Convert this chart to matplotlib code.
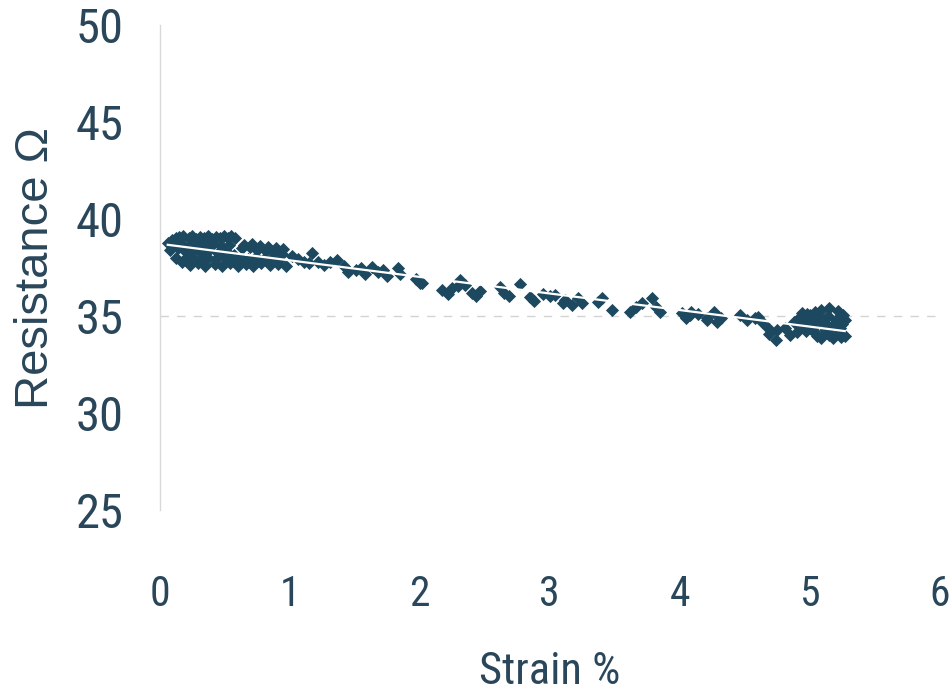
import numpy as np
import matplotlib
matplotlib.use("Agg")
import matplotlib.pyplot as plt
from matplotlib import font_manager as fm

# the scan uses a narrow Arial-like face for horizontal text
have = {f.name for f in fm.fontManager.ttflist}
narrow = {'family': 'DejaVu Sans', 'stretch': 'condensed'}
for name in ['Liberation Sans Narrow', 'Arial Narrow', 'Roboto Condensed', 'Open Sans Condensed']:
    if name in have:
        narrow = {'family': name}
        break
regular = 'Liberation Sans' if 'Liberation Sans' in have else 'DejaVu Sans'

# strain (%) and resistance (ohm)
strain = [
    0.06, 0.09, 0.12, 0.15, 0.18, 0.22, 0.25, 0.28, 0.31, 0.34, 0.37, 0.40, 0.43, 0.46, 0.49, 0.52, 0.55, 0.58,
    0.11, 0.17, 0.23, 0.29, 0.35, 0.41, 0.47, 0.53,
    0.08, 0.14, 0.20, 0.26, 0.32, 0.38, 0.45, 0.51, 0.57, 0.63, 0.69, 0.75, 0.82, 0.88, 0.94,
    0.12, 0.19, 0.25, 0.31, 0.37, 0.43, 0.50, 0.56, 0.62, 0.68, 0.74, 0.80, 0.86, 0.92,
    0.17, 0.23, 0.29, 0.35, 0.42, 0.48, 0.54, 0.60, 0.66, 0.72, 0.78, 0.85, 0.91, 0.97,
    0.65, 0.71, 0.77, 0.83, 0.89, 0.95,
    1.02, 1.06, 1.11, 1.17, 1.15, 1.22, 1.26, 1.31, 1.36, 1.42, 1.45, 1.51, 1.55, 1.58, 1.63, 1.68,
    1.72, 1.75, 1.83, 1.85, 1.97, 2.00,
    2.02, 2.17, 2.22, 2.25, 2.31, 2.35, 2.29, 2.40, 2.46, 2.43, 2.62, 2.65, 2.69, 2.77, 2.85, 2.88,
    2.95, 3.00, 3.04, 3.10,
    3.12, 3.17, 3.22, 3.25, 3.37, 3.40, 3.48, 3.62, 3.66, 3.71, 3.79, 3.82, 3.85, 4.02, 4.08, 4.14,
    4.05, 4.21,
    4.09, 4.21, 4.26, 4.32, 4.29, 4.46, 4.52, 4.58, 4.63, 4.68, 4.60, 4.69, 4.74, 4.75, 4.85, 4.81,
    4.92, 4.98, 5.04, 5.09, 5.15, 5.22, 5.26, 4.96, 5.02, 5.08, 5.14, 5.20, 5.25, 4.92, 5.00, 5.04,
    5.09, 5.15, 5.22, 5.27, 5.12,
    4.94, 5.00, 5.06, 5.11, 5.17, 5.23, 5.27, 4.97, 5.06, 5.18, 5.24, 4.88, 4.90,
]
resistance = [
    38.76, 38.92, 39.02, 39.07, 39.12, 39.02, 39.12, 38.97, 39.07, 39.02, 39.12, 38.97, 39.07, 39.02, 39.12, 39.02, 39.12, 39.02,
    38.66, 38.71, 38.61, 38.71, 38.66, 38.71, 38.61, 38.66,
    38.40, 38.51, 38.30, 38.40, 38.20, 38.40, 38.25, 38.35, 38.14, 38.51, 38.56, 38.40, 38.35, 38.30, 38.20,
    38.00, 37.94, 38.04, 37.89, 38.00, 37.94, 38.04, 37.89, 38.00, 37.94, 38.04, 37.94, 38.00, 37.89,
    37.78, 37.63, 37.73, 37.58, 37.68, 37.58, 37.73, 37.58, 37.68, 37.58, 37.73, 37.63, 37.68, 37.58,
    38.66, 38.71, 38.61, 38.56, 38.51, 38.45,
    38.09, 37.94, 37.78, 38.25, 37.73, 37.78, 37.63, 37.78, 37.89, 37.58, 37.27, 37.37, 37.47, 37.16, 37.53, 37.27,
    37.37, 37.06, 37.47, 37.16, 36.91, 36.70,
    36.70, 36.34, 36.13, 36.44, 36.86, 36.60, 36.55, 36.19, 36.29, 36.03, 36.49, 36.19, 36.03, 36.65, 35.98, 35.77,
    36.13, 36.03, 36.08, 35.67,
    35.82, 35.57, 35.93, 35.67, 35.72, 35.93, 35.31, 35.21, 35.46, 35.67, 35.93, 35.46, 35.21, 35.15, 35.05, 35.10,
    34.90, 34.79,
    35.21, 34.90, 35.21, 34.90, 34.69, 35.05, 34.79, 34.90, 34.69, 34.38, 34.95, 34.07, 33.76, 34.28, 34.02, 34.38,
    34.90, 35.10, 35.21, 35.31, 35.41, 35.26, 35.05, 34.69, 34.79, 34.90, 35.00, 34.79, 34.59, 34.48, 34.38, 34.12,
    33.87, 34.02, 34.12, 33.97, 34.28,
    35.15, 35.05, 34.59, 34.69, 34.48, 34.38, 34.79, 34.23, 33.97, 33.87, 33.92, 34.69, 34.18,
]

x_ticks = [0, 1, 2, 3, 4, 5, 6]
y_ticks = [25, 30, 35, 40, 45, 50]

dark = '#1d4960'
text_col = '#2a465a'

fig = plt.figure(figsize=(9.52, 6.96), dpi=100)
ax = fig.add_axes([0.168, 0.267, 0.819, 0.697])

ax.axhline(35, color='#d3d3d3', lw=1, ls=(0, (6, 6)), zorder=0)

x = np.array(strain)
y = np.array(resistance)
ax.scatter(x, y, marker='D', s=45, color=dark, linewidths=0, zorder=2)

# linear trendline
k, b = np.polyfit(x, y, 1)
xs = np.array([x.min(), x.max()])
ax.plot(xs, k * xs + b, color='white', lw=1.6, zorder=3)

ax.set_xlim(0, 6)
ax.set_ylim(25, 50)
ax.set_xticks(x_ticks)
ax.set_yticks(y_ticks)

for s in ['top', 'right', 'bottom']:
    ax.spines[s].set_visible(False)
ax.spines['left'].set_color('#d9d9d9')
ax.spines['left'].set_linewidth(1)

ax.tick_params(axis='both', length=0, colors=text_col)
ax.tick_params(axis='x', pad=46)
ax.tick_params(axis='y', pad=26)
for lab in ax.get_xticklabels():
    lab.set_fontproperties(fm.FontProperties(size=30, **narrow))
for lab in ax.get_yticklabels():
    lab.set_fontproperties(fm.FontProperties(size=35, **narrow))

ax.set_xlabel('Strain %', color=text_col, labelpad=26,
              fontproperties=fm.FontProperties(size=32, **narrow))
ax.set_ylabel('Resistance Ω', color=text_col, labelpad=13, fontsize=34, family=regular)

fig.savefig('out.png', dpi=100)
